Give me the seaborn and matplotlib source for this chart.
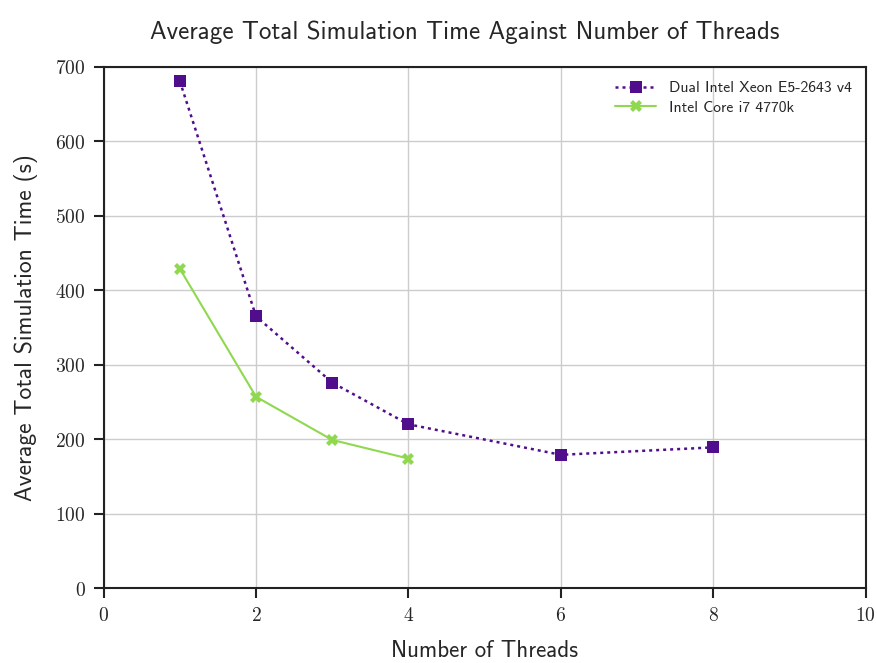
import os
import matplotlib
matplotlib.use("Agg")
import matplotlib.pyplot as plt
from matplotlib.font_manager import FontProperties
import seaborn as sns
import pandas as pd

# Average total simulation time (s) per thread count
xeon_threads = [1, 2, 3, 4, 6, 8]
xeon_times = [681, 365, 276, 220, 179, 189]
i7_threads = [1, 2, 3, 4]
i7_times = [429, 257, 199, 174]

xeon_label = "Dual Intel Xeon E5-2643 v4"
i7_label = "Intel Core i7 4770k"

x_ticks = [0, 2, 4, 6, 8, 10]
y_ticks = [0, 100, 200, 300, 400, 500, 600, 700]

sns.set_theme(style="whitegrid")
plt.rcParams["mathtext.fontset"] = "cm"
plt.rcParams["axes.edgecolor"] = "#222222"
plt.rcParams["grid.color"] = "#cccccc"

ttf_dir = os.path.join(matplotlib.get_data_path(), "fonts", "ttf")
sans_path = os.path.join(ttf_dir, "cmss10.ttf")


def sans(size):
    return FontProperties(fname=sans_path, size=size)


df = pd.concat([
    pd.DataFrame({"threads": xeon_threads, "time": xeon_times, "cpu": xeon_label}),
    pd.DataFrame({"threads": i7_threads, "time": i7_times, "cpu": i7_label}),
])

fig, ax = plt.subplots(figsize=(8.78, 6.63), dpi=100)

palette = {xeon_label: "#510e8c", i7_label: "#8fd84f"}
sns.lineplot(data=df[df.cpu == xeon_label], x="threads", y="time", ax=ax,
             color=palette[xeon_label], linestyle=(0, (1.2, 1.6)), linewidth=1.8,
             marker="s", markersize=8, markeredgewidth=0, label=xeon_label)
sns.lineplot(data=df[df.cpu == i7_label], x="threads", y="time", ax=ax,
             color=palette[i7_label], linestyle="-", linewidth=1.5,
             marker="X", markersize=8, markeredgewidth=0, label=i7_label)

ax.set_xlim(0, 10)
ax.set_ylim(0, 700)
ax.set_xticks(x_ticks)
ax.set_yticks(y_ticks)
ax.set_xticklabels([f"${t}$" for t in x_ticks], fontsize=14)
ax.set_yticklabels([f"${t}$" for t in y_ticks], fontsize=14)
ax.tick_params(axis="both", which="both", direction="out", length=7, width=1.5,
               color="#222222", left=True, bottom=True, pad=6)
for s in ax.spines.values():
    s.set_linewidth(1.5)
    s.set_color("#222222")

ax.set_xlabel("Number of Threads", fontproperties=sans(16.5), labelpad=11)
ax.set_ylabel("Average Total Simulation Time (s)", fontproperties=sans(17), labelpad=12)
ax.set_title("Average Total Simulation Time Against Number of Threads",
             fontproperties=sans(18), pad=20, x=0.474)

leg = ax.legend(loc="upper right", prop=sans(11.3), frameon=False,
                handlelength=2.6, labelspacing=0.35)

fig.subplots_adjust(left=0.118, right=0.986, top=0.899, bottom=0.113)
fig.savefig("out.png", dpi=100)
